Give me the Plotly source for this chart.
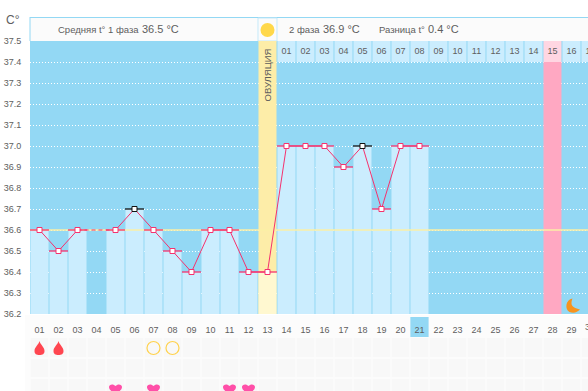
import plotly.graph_objects as go

days = list(range(1, 31))
day_labels = [f"{d:02d}" for d in days]
temp_days = list(range(1, 22))
temps = [36.6, 36.5, 36.6, None, 36.6, 36.7, 36.6, 36.5, 36.4, 36.6, 36.6, 36.4, 36.4,
         37.0, 37.0, 37.0, 36.9, 37.0, 36.7, 37.0, 37.0]
black_days = [6, 18]
missing_link_days = [3, 5]
cover_line = 36.6
y_min, y_max = 36.2, 37.5
y_ticks = [36.2, 36.3, 36.4, 36.5, 36.6, 36.7, 36.8, 36.9, 37.0, 37.1, 37.2, 37.3, 37.4, 37.5]
ovulation_day = 13
period_day = 28
moon_day = 29
today_day = 21
phase2_start = 14
phase1_avg, phase2_avg, diff_t = "36.5 °C", "36.9 °C", "0.4 °C"
drop_days = [1, 2]
circle_days = [7, 8]
heart_days = [5, 7, 11, 12]

BLUE = "#93D8F4"
LIGHT = "#CBEDFE"
RED = "#F5326E"
TXT = "#5E5E5E"
FONT = "Liberation Sans"
W, H = 588, 391
MT, ML = 41, 30
PH = H - MT
X_END = 29.87

def py(px):
    return (H - px) / PH

fig = go.Figure()
lookup = dict(zip(temp_days, temps))

bar_x = [d for d in temp_days if lookup[d] is not None and d != ovulation_day]
fig.add_trace(go.Bar(x=bar_x, y=[lookup[d] - y_min for d in bar_x], base=y_min, width=18 / 19,
                     marker=dict(color=LIGHT, line_width=0), hoverinfo="skip"))
fig.add_trace(go.Bar(x=[ovulation_day], y=[y_max - y_min], base=y_min, width=18 / 19,
                     marker=dict(color="#FDEDA8", line_width=0), hoverinfo="skip"))
fig.add_trace(go.Bar(x=[ovulation_day], y=[lookup[ovulation_day] - y_min], base=y_min, width=18 / 19,
                     marker=dict(color="#FFF8D0", line_width=0), hoverinfo="skip"))
fig.add_trace(go.Bar(x=[period_day], y=[37.4 - y_min], base=y_min, width=18 / 19,
                     marker=dict(color="#FFA8C2", line_width=0), hoverinfo="skip"))
hdr_x = [d for d in days if d >= phase2_start]
hdr_labels = [f"{d - phase2_start + 1:02d}" for d in hdr_x]
fig.add_trace(go.Bar(x=hdr_x, y=[0.1] * len(hdr_x), base=37.4, width=18 / 19,
                     marker=dict(color=["#FFD6E2" if d == period_day else LIGHT for d in hdr_x], line_width=0),
                     hoverinfo="skip"))
fig.add_trace(go.Scatter(x=hdr_x, y=[37.45] * len(hdr_x), mode="text", text=hdr_labels,
                         textfont=dict(family=FONT, size=9, color=TXT), hoverinfo="skip"))
fig.add_trace(go.Scatter(x=[0.5, X_END], y=[cover_line, cover_line], mode="lines",
                         line=dict(color="#FBEFA6", width=1.5), hoverinfo="skip"))
fig.add_trace(go.Scatter(x=missing_link_days, y=[lookup[d] for d in missing_link_days], mode="lines",
                         line=dict(color=RED, width=1, dash="4px,3px"), hoverinfo="skip"))
fig.add_trace(go.Scatter(x=temp_days, y=temps, mode="lines", connectgaps=False,
                         line=dict(color=RED, width=1), hoverinfo="skip"))
red_x = [d for d in temp_days if lookup[d] is not None and d not in black_days]
fig.add_trace(go.Scatter(x=red_x, y=[lookup[d] for d in red_x], mode="markers",
                         marker=dict(symbol="square", size=5, color="white", line=dict(color=RED, width=1)),
                         error_x=dict(type="constant", value=0.5, color=RED, thickness=1.3, width=0),
                         hoverinfo="skip"))
fig.add_trace(go.Scatter(x=black_days, y=[lookup[d] for d in black_days], mode="markers",
                         marker=dict(symbol="square", size=5, color="white", line=dict(color="#111111", width=1)),
                         error_x=dict(type="constant", value=0.5, color="#111111", thickness=1.3, width=0),
                         hoverinfo="skip"))
fig.add_trace(go.Scatter(x=circle_days, y=[1] * len(circle_days), yaxis="y2", mode="markers", cliponaxis=False,
                         marker=dict(size=13, color="rgba(0,0,0,0)", line=dict(color="#FFD24D", width=1.2)),
                         hoverinfo="skip"))

shapes = []
shapes.append(dict(type="rect", xref="paper", yref="paper", x0=-5 / 558, x1=1, y0=0, y1=py(315),
                   fillcolor="#FCFCFC", line_width=0, layer="below"))
shapes.append(dict(type="rect", xref="paper", yref="paper", x0=0, x1=1, y0=py(41), y1=py(17),
                   fillcolor="#FBFBFB", line_width=0, layer="below"))
shapes.append(dict(type="line", xref="paper", yref="paper", x0=0, x1=1, y0=py(17.5), y1=py(17.5),
                   line=dict(color=BLUE, width=1), layer="below"))
shapes.append(dict(type="line", xref="paper", yref="paper", x0=0, x1=0, y0=py(41), y1=py(17),
                   line=dict(color=BLUE, width=1), layer="below"))
shapes.append(dict(type="rect", xref="x", yref="paper", x0=ovulation_day - 0.5, x1=ovulation_day + 0.5,
                   y0=py(41), y1=py(18), fillcolor="#FBFBFB", line=dict(color="#C5E9F9", width=1), layer="below"))
shapes.append(dict(type="rect", xref="x", yref="paper", x0=today_day - 0.48, x1=today_day + 0.48,
                   y0=py(337), y1=py(317), fillcolor=BLUE, line_width=0, layer="below"))
for d in days:
    for top, bot in [(338, 357), (359, 377), (379, 391)]:
        shapes.append(dict(type="rect", xref="x", yref="paper", x0=d - 0.46, x1=d + 0.46,
                           y0=py(bot), y1=py(top), fillcolor="#F8F8F8", line_width=0, layer="below"))

DROP = "M 0 7 C -1 3 -5 1 -5 -3 C -5 -6 -3 -7 0 -7 C 3 -7 5 -6 5 -3 C 5 1 1 3 0 7 Z"
HEART = "M 0 -5 C -3 -3 -6.5 -1 -6.5 2 C -6.5 5 -2 5.5 0 3 C 2 5.5 6.5 5 6.5 2 C 6.5 -1 3 -3 0 -5 Z"
MOON = "M 1 7 C -6 6 -7 -4 -2 -6.5 C 2 -8 6 -7 8.5 -4 C 4 -3 0 -1 0 2 C 0 4 0.5 6 1 7 Z"
for d in drop_days:
    shapes.append(dict(type="path", xref="x", yref="y2", xsizemode="pixel", ysizemode="pixel",
                       xanchor=d, yanchor=1, path=DROP, fillcolor="#FF4650", line_width=0))
for d in heart_days:
    shapes.append(dict(type="path", xref="x", yref="y2", xsizemode="pixel", ysizemode="pixel",
                       xanchor=d, yanchor=3.05, path=HEART, fillcolor="#FF4FA8", line_width=0))
shapes.append(dict(type="path", xref="x", yref="y", xsizemode="pixel", ysizemode="pixel",
                   xanchor=moon_day, yanchor=36.24, path=MOON, fillcolor="#F7931E", line_width=0))
shapes.append(dict(type="circle", xref="x", yref="paper", xsizemode="pixel", ysizemode="pixel",
                   xanchor=ovulation_day, yanchor=py(30), x0=-7, x1=7, y0=-7, y1=7,
                   fillcolor="#FFD84A", line_width=0))

def note(text, px, size, py_=29):
    return dict(text=text, xref="paper", yref="paper", x=(px - ML) / (W - ML), y=py(py_), showarrow=False,
                xanchor="left", yanchor="middle", font=dict(family=FONT, size=size, color=TXT))

annotations = [
    note("C°", 4, 12, py_=20),
    note("Средняя t° 1 фаза", 55.5, 9.5),
    note(phase1_avg, 140, 11),
    note("2 фаза", 287, 9.5),
    note(phase2_avg, 321, 11),
    note("Разница t°", 377, 9.5),
    note(diff_t, 426, 11),
    dict(text=day_labels[-1], xref="paper", yref="paper", x=(days[-1] - 0.5) / (X_END - 0.5), y=py(327),
         showarrow=False, xanchor="center", yanchor="middle", font=dict(family=FONT, size=9, color=TXT)),
    dict(text="ОВУЛЯЦИЯ", x=ovulation_day, y=37.338, xref="x", yref="y", showarrow=False, textangle=-90,
         font=dict(family=FONT, size=9.5, color=TXT)),
]

fig.update_layout(
    width=W, height=H, autosize=False, margin=dict(l=ML, r=0, t=MT, b=0, pad=0, autoexpand=False),
    paper_bgcolor="white", plot_bgcolor=BLUE, showlegend=False, barmode="overlay",
    font=dict(family=FONT, color=TXT, size=9),
    shapes=shapes, annotations=annotations,
    xaxis=dict(range=[0.5, X_END], tickvals=days, ticktext=day_labels, showgrid=False, zeroline=False,
               ticks="outside", ticklen=7, tickcolor="rgba(0,0,0,0)", tickangle=0, fixedrange=True,
               tickfont=dict(family=FONT, size=9, color=TXT), anchor="y", showline=False),
    yaxis=dict(range=[y_min, y_max], domain=[py(314), 1], tickvals=y_ticks,
               ticktext=[f"{v:.1f}" for v in y_ticks], showgrid=True, gridcolor="white", griddash="1px,2px",
               gridwidth=1, zeroline=False, ticks="outside", ticklen=6, tickcolor="rgba(0,0,0,0)",
               tickfont=dict(family=FONT, size=9, color=TXT), fixedrange=True, showline=False),
    yaxis2=dict(range=[3.15, 0.5], domain=[0, py(338)], visible=False, fixedrange=True, anchor="x"),
)

fig.write_html("out.html", config=dict(displayModeBar=False, responsive=False),
               post_script="document.body.style.margin='0';document.documentElement.style.overflow='hidden';")
